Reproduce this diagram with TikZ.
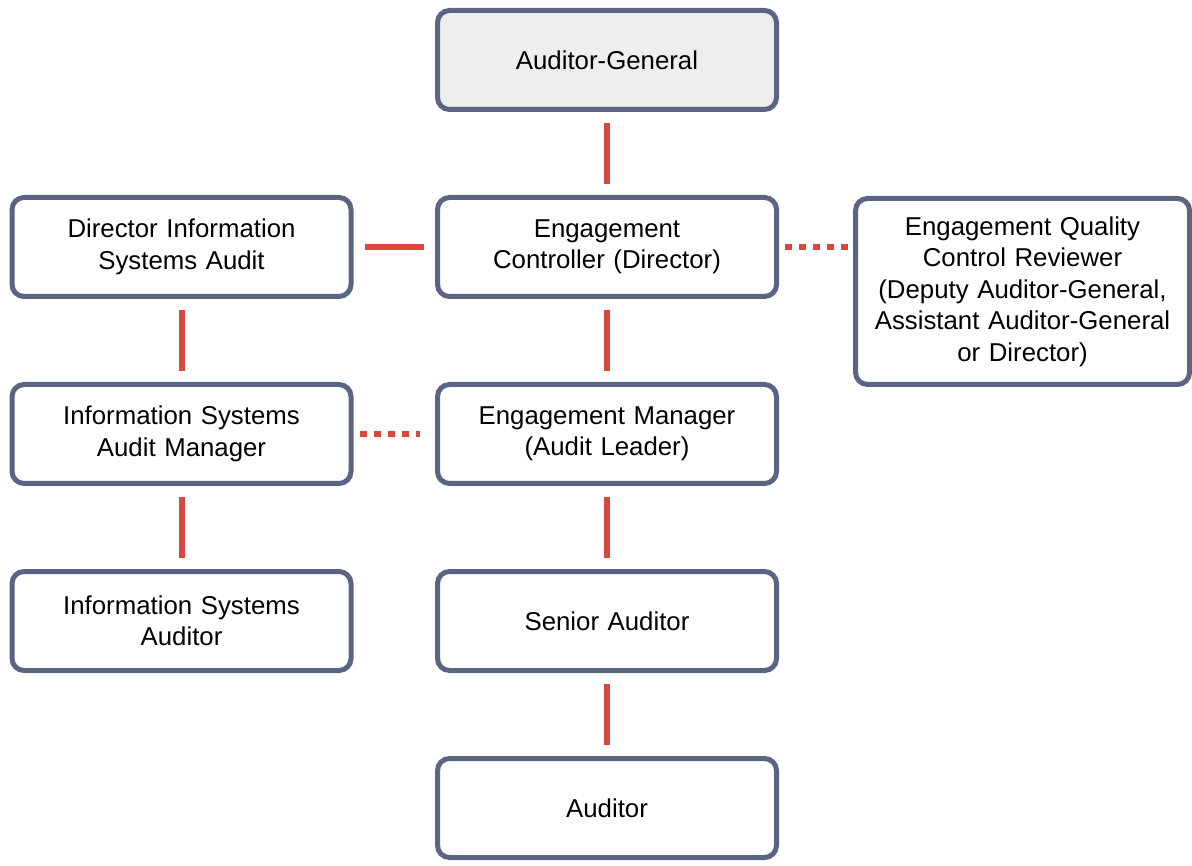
\documentclass[tikz,border=0pt]{standalone}
\usepackage{fontspec}
\setmainfont{Liberation Sans}
\usetikzlibrary{shapes,arrows}

\definecolor{boxborder}{HTML}{5B6482}
\definecolor{topfill}{HTML}{EEEEEE}
\definecolor{linkred}{HTML}{D9483F}

\begin{document}
\begin{tikzpicture}[x=1pt, y=-1pt, node distance = 187pt, auto]

    % Define block styles
    \tikzstyle{block} = [rectangle, draw=boxborder, line width=5pt, fill=white,
        text width=330pt, align=center, rounded corners=12pt,
        minimum width=339pt, minimum height=99pt, inner sep=0pt,
        font=\fontsize{25.8}{31.5}\selectfont]
    \tikzstyle{line} = [draw=linkred, line width=6pt, shorten <=11pt, shorten >=11pt]
    \tikzstyle{dotline} = [draw=linkred, line width=6pt, shorten <=6pt, shorten >=5pt,
        dash pattern=on 7pt off 7pt]

    \useasboundingbox (0,0) rectangle (1192,866);

    % Place nodes
    \node [block, fill=topfill] (general) at (607,60) {Auditor-General};
    \node [block, below of=general] (controller) {Engagement\\Controller (Director)};
    \node [block, below of=controller] (manager) {Engagement Manager\\(Audit Leader)};
    \node [block, below of=manager] (senior) {Senior Auditor};
    \node [block, below of=senior] (auditor) {Auditor};

    \node [block, left of=controller, node distance=425.5pt] (isdirector) {Director Information\\Systems Audit};
    \node [block, below of=isdirector] (ismanager) {Information Systems\\Audit Manager};
    \node [block, below of=ismanager] (isauditor) {Information Systems\\Auditor};

    \node [block, minimum width=334pt, minimum height=186pt] (reviewer) at (1022.5,291.5)
        {Engagement Quality\\Control Reviewer\\(Deputy Auditor-General,\\Assistant Auditor-General\\or Director)};

    % Draw edges
    \path [line] (general) -- (controller);
    \path [line] (controller) -- (manager);
    \path [line] (manager) -- (senior);
    \path [line] (senior) -- (auditor);
    \path [line] (isdirector) -- (ismanager);
    \path [line] (ismanager) -- (isauditor);
    \path [line] (isdirector) -- (controller);
    \path [dotline] (controller.east) -- (controller.east -| reviewer.west);
    \path [dotline, shorten >=15pt] (ismanager) -- (manager);

\end{tikzpicture}
\end{document}
